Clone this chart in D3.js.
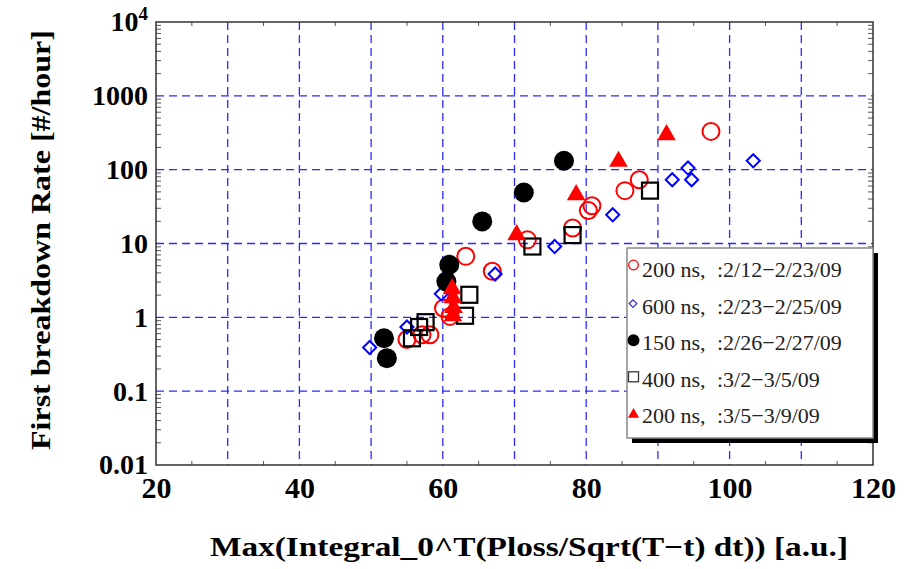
<!DOCTYPE html>
<html>
<head>
<meta charset="utf-8">
<script src="https://cdn.jsdelivr.net/npm/d3@7"></script>
<style>
  body { margin: 0; background: #fff; }
  text { font-family: "Liberation Serif", "Times New Roman", serif; }
</style>
</head>
<body>
<div id="chart"></div>
<script>
// series: [x, rate]
const circ200 = [[97.4, 330], [87.4, 73], [85.4, 52], [80.8, 32.4], [80.3, 28], [78.1, 16.2], [71.8, 11.2],
  [63.2, 6.7], [66.9, 4.2], [60.1, 1.33], [61.0, 1.03], [55.0, 0.50], [57.1, 0.58], [58.2, 0.58]];
const diam600 = [[103.3, 132], [94.2, 105], [94.7, 73], [92.0, 73], [83.7, 24.5], [75.6, 9.1], [67.3, 3.85],
  [59.8, 2.08], [55.0, 0.74], [49.8, 0.39]];
const dot150 = [[76.9, 132], [71.3, 49], [65.5, 19.9], [60.9, 5.15], [60.5, 3.05], [51.8, 0.52], [52.2, 0.28]];
const sq400 = [[88.9, 52], [78.1, 13.0], [72.5, 9.1], [63.7, 2.02], [63.1, 1.05], [57.6, 0.86], [56.7, 0.74], [55.7, 0.52]];
const tri200 = [[91.2, 297], [84.5, 129], [78.6, 45.7], [70.3, 13.1], [61.3, 2.43], [61.4, 1.84], [61.5, 1.35], [61.4, 1.05]];

const legendNames = ["200 ns,", "600 ns,", "150 ns,", "400 ns,", "200 ns,"];
const legendDates = [":2/12\u22122/23/09", ":2/23\u22122/25/09", ":2/26\u22122/27/09", ":3/2\u22123/5/09", ":3/5\u22123/9/09"];

const xTicks = [20, 40, 60, 80, 100, 120];
const yTicks = [0.01, 0.1, 1, 10, 100, 1000, 10000];
const yTickLabels = ["0.01", "0.1", "1", "10", "100", "1000", "10^4"];

const margin = { top: 22, right: 45, bottom: 104, left: 156 };
const W = 918, H = 569;
const width = W - margin.left - margin.right;
const height = H - margin.top - margin.bottom;

const x = d3.scaleLinear().domain([20, 120]).range([0, width]);
const y = d3.scaleLog().domain([0.01, 10000]).range([height, 0]);

const svg = d3.select('#chart').append('svg')
  .attr('width', W).attr('height', H)
  .append('g')
  .attr('transform', `translate(${margin.left}, ${margin.top})`);

// grid
const gridX = d3.range(30, 120, 10);
const gridY = [0.1, 1, 10, 100, 1000];
svg.append('g').selectAll('line').data(gridX).enter().append('line')
  .attr('x1', d => x(d)).attr('x2', d => x(d)).attr('y1', 0).attr('y2', height)
  .attr('stroke', '#2a2aff').attr('stroke-width', 1.3).attr('stroke-dasharray', '8,5');
svg.append('g').selectAll('line').data(gridY).enter().append('line')
  .attr('y1', d => y(d)).attr('y2', d => y(d)).attr('x1', 0).attr('x2', width)
  .attr('stroke', '#2a2aff').attr('stroke-width', 1.3).attr('stroke-dasharray', '8,5');

// minor ticks
const minorY = [];
for (let e = -2; e < 4; e++) for (let m = 2; m <= 9; m++) minorY.push(m * Math.pow(10, e));
const minorX = d3.range(25, 120, 10);
const tk = svg.append('g').attr('stroke', '#555').attr('stroke-width', 1);
tk.selectAll('.ml').data(minorY).enter().append('line')
  .attr('x1', 0).attr('x2', 5).attr('y1', d => y(d)).attr('y2', d => y(d));
tk.selectAll('.mr').data(minorY).enter().append('line')
  .attr('x1', width).attr('x2', width - 5).attr('y1', d => y(d)).attr('y2', d => y(d));
tk.selectAll('.mb').data(minorX).enter().append('line')
  .attr('x1', d => x(d)).attr('x2', d => x(d)).attr('y1', height).attr('y2', height - 4);
tk.selectAll('.mt').data(minorX).enter().append('line')
  .attr('x1', d => x(d)).attr('x2', d => x(d)).attr('y1', 0).attr('y2', 4);

// frame
svg.append('rect').attr('width', width).attr('height', height)
  .attr('fill', 'none').attr('stroke', '#333').attr('stroke-width', 1.5);

// axes labels via d3 axes
const xAxis = svg.append('g').attr('transform', `translate(0, ${height})`)
  .call(d3.axisBottom(x).tickValues(xTicks).tickSize(0).tickPadding(12).tickFormat(d3.format('d')));
xAxis.select('.domain').remove();
xAxis.selectAll('text').attr('font-size', 30).attr('font-weight', 'bold').attr('fill', '#000')
  .attr('font-family', '"Liberation Serif", serif');

const yAxis = svg.append('g')
  .call(d3.axisLeft(y).tickValues(yTicks).tickSize(0).tickPadding(8).tickFormat(() => ''));
yAxis.select('.domain').remove();
yAxis.selectAll('.tick text').each(function (d, i) {
  const t = d3.select(this).attr('font-size', 28).attr('font-weight', 'bold').attr('fill', '#000')
    .attr('font-family', '"Liberation Serif", serif');
  const lab = yTickLabels[i];
  if (lab.includes('^')) {
    const p = lab.split('^');
    t.text(p[0]);
    t.append('tspan').attr('dy', -11).attr('font-size', 19).text(p[1]);
  } else {
    t.text(lab);
  }
});

// axis titles
svg.append('text')
  .attr('x', 210 - margin.left).attr('y', 556 - margin.top)
  .attr('font-size', 28).attr('font-weight', 'bold')
  .attr('textLength', 638).attr('lengthAdjust', 'spacingAndGlyphs')
  .text('Max(Integral_0^T(Ploss/Sqrt(T\u2212t) dt)) [a.u.]');
svg.append('text')
  .attr('transform', `translate(${50 - margin.left}, ${450 - margin.top}) rotate(-90)`)
  .attr('font-size', 28).attr('font-weight', 'bold')
  .attr('textLength', 420).attr('lengthAdjust', 'spacingAndGlyphs')
  .text('First breakdown Rate [#/hour]');

// markers
const pts = svg.append('g');
const red = '#ff0000', blue = '#0000ff';

pts.append('g').selectAll('circle').data(circ200).enter().append('circle')
  .attr('cx', d => x(d[0])).attr('cy', d => y(d[1])).attr('r', 8.5)
  .attr('fill', 'none').attr('stroke', red).attr('stroke-width', 2);

const diamond = d3.symbol().type(d3.symbolDiamond2).size(110);
pts.append('g').selectAll('path').data(diam600).enter().append('path')
  .attr('d', diamond).attr('transform', d => `translate(${x(d[0])}, ${y(d[1])})`)
  .attr('fill', 'none').attr('stroke', blue).attr('stroke-width', 2);

pts.append('g').selectAll('circle').data(dot150).enter().append('circle')
  .attr('cx', d => x(d[0])).attr('cy', d => y(d[1])).attr('r', 10)
  .attr('fill', '#000');

pts.append('g').selectAll('rect').data(sq400).enter().append('rect')
  .attr('x', d => x(d[0]) - 8).attr('y', d => y(d[1]) - 8).attr('width', 16).attr('height', 16)
  .attr('fill', 'none').attr('stroke', '#000').attr('stroke-width', 2.2);

const tri = d3.symbol().type(d3.symbolTriangle).size(150);
pts.append('g').selectAll('path').data(tri200).enter().append('path')
  .attr('d', tri).attr('transform', d => `translate(${x(d[0])}, ${y(d[1])})`)
  .attr('fill', red);

// legend
const lg = svg.append('g').attr('transform', `translate(${627 - margin.left}, ${248 - margin.top})`);
lg.append('rect').attr('x', 5).attr('y', 5).attr('width', 246).attr('height', 190).attr('fill', '#000');
lg.append('rect').attr('width', 246).attr('height', 190).attr('fill', '#fff')
  .attr('stroke', '#888').attr('stroke-width', 1.5);
const rowY = i => 29 + i * 36.6;   // baselines
const rows = lg.selectAll('.row').data(legendNames).enter().append('g')
  .attr('transform', (d, i) => `translate(0, ${rowY(i)})`);
rows.append('text').attr('x', 15).attr('y', 0).attr('font-size', 22).attr('fill', '#222')
  .text(d => d);
rows.append('text').attr('x', 90).attr('y', 0).attr('font-size', 22).attr('fill', '#222')
  .text((d, i) => legendDates[i]);
const sym = lg.append('g');
sym.append('circle').attr('cx', 6.5).attr('cy', rowY(0) - 12).attr('r', 4.8)
  .attr('fill', 'none').attr('stroke', red).attr('stroke-width', 1.3);
sym.append('path').attr('d', d3.symbol().type(d3.symbolDiamond2).size(36))
  .attr('transform', `translate(6, ${rowY(1) - 10})`).attr('fill', 'none').attr('stroke', '#3333cc').attr('stroke-width', 1.3);
sym.append('circle').attr('cx', 6.5).attr('cy', rowY(2) - 10).attr('r', 6).attr('fill', '#000');
sym.append('rect').attr('x', 1.5).attr('y', rowY(3) - 15).attr('width', 10).attr('height', 10)
  .attr('fill', 'none').attr('stroke', '#333').attr('stroke-width', 1.3);
sym.append('path').attr('d', d3.symbol().type(d3.symbolTriangle).size(55))
  .attr('transform', `translate(6.5, ${rowY(4) - 9})`).attr('fill', red);
</script>
</body>
</html>
